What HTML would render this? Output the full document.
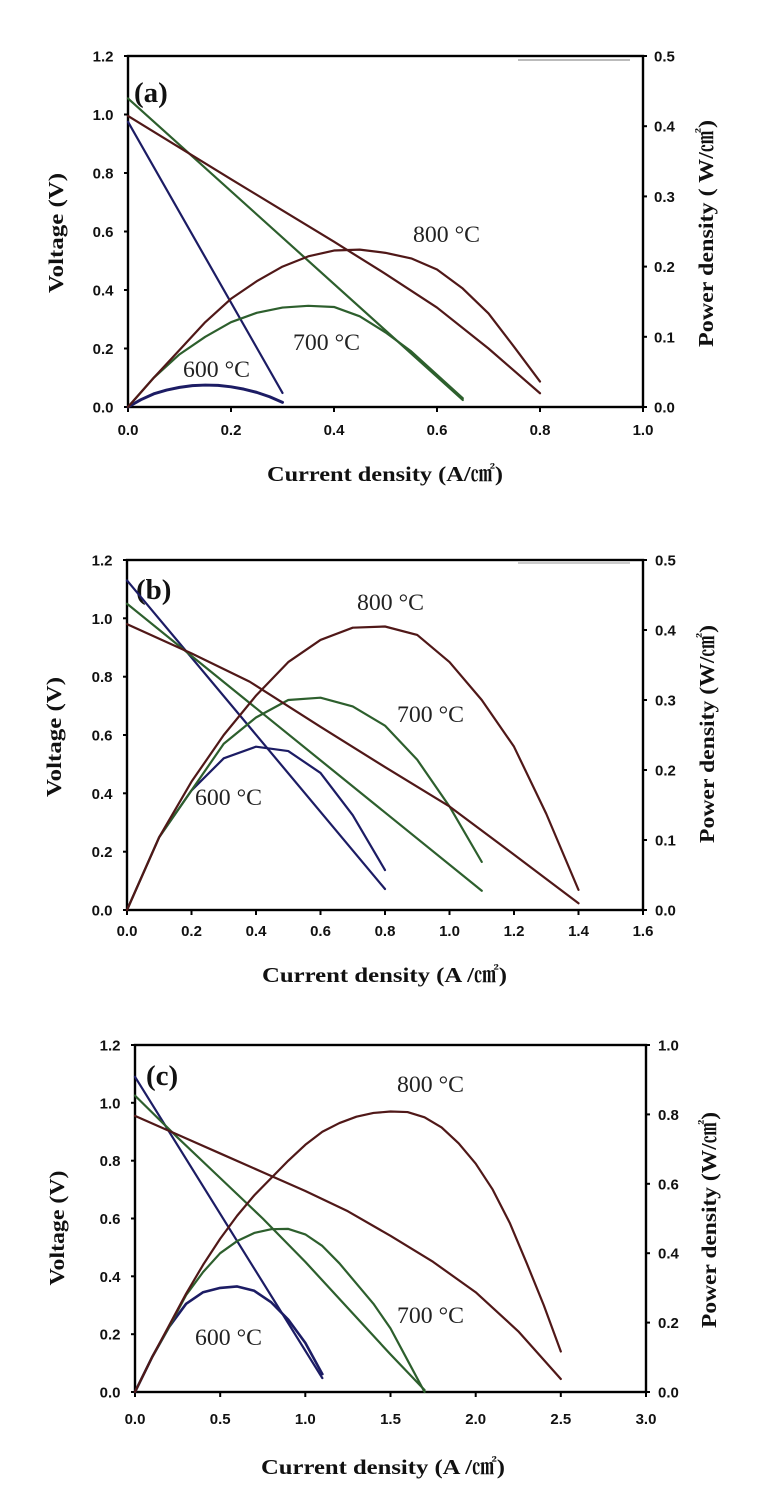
<!DOCTYPE html>
<html>
<head>
<meta charset="utf-8">
<style>
html,body{margin:0;padding:0;background:#fff;}
svg{display:block;}
.tk{font-family:"Liberation Sans",sans-serif;font-weight:bold;font-size:15px;fill:#111;}
.ti{font-family:"Liberation Serif","Noto Serif CJK SC","Noto Sans CJK KR",serif;font-weight:bold;font-size:21px;fill:#111;}
.pl{font-family:"Liberation Serif",serif;font-weight:bold;font-size:29px;fill:#111;}
.tl{font-family:"Liberation Serif",serif;font-size:23px;fill:#222;}
.ax{fill:none;stroke:#000;stroke-width:2.4;}
.t{stroke:#000;stroke-width:2;}
.c{fill:none;stroke-width:2.2;stroke-linejoin:round;stroke-linecap:round;}
.nv{stroke:#1c1c64;}
.gr{stroke:#2d5f2d;}
.br{stroke:#501818;}
</style>
</head>
<body>
<svg width="764" height="1511" viewBox="0 0 764 1511" xmlns="http://www.w3.org/2000/svg">
<rect width="764" height="1511" fill="#fff"/>

<!-- ================= PANEL (a) ================= -->
<line x1="518" y1="60" x2="630" y2="60" stroke="#bbb" stroke-width="2"/>
<rect class="ax" x="128" y="56" width="515" height="351"/>
<g class="t">
<line x1="124" y1="407" x2="128" y2="407"/><line x1="124" y1="348.5" x2="128" y2="348.5"/>
<line x1="124" y1="290" x2="128" y2="290"/><line x1="124" y1="231.5" x2="128" y2="231.5"/>
<line x1="124" y1="173" x2="128" y2="173"/><line x1="124" y1="114.5" x2="128" y2="114.5"/>
<line x1="124" y1="56" x2="128" y2="56"/>
<line x1="128" y1="407" x2="128" y2="412"/><line x1="231" y1="407" x2="231" y2="412"/>
<line x1="334" y1="407" x2="334" y2="412"/><line x1="437" y1="407" x2="437" y2="412"/>
<line x1="540" y1="407" x2="540" y2="412"/><line x1="643" y1="407" x2="643" y2="412"/>
<line x1="643" y1="407" x2="647" y2="407"/><line x1="643" y1="336.8" x2="647" y2="336.8"/>
<line x1="643" y1="266.6" x2="647" y2="266.6"/><line x1="643" y1="196.4" x2="647" y2="196.4"/>
<line x1="643" y1="126.2" x2="647" y2="126.2"/><line x1="643" y1="56" x2="647" y2="56"/>
</g>
<g class="tk" text-anchor="end">
<text x="113.5" y="412.5">0.0</text><text x="113.5" y="354">0.2</text><text x="113.5" y="295.5">0.4</text>
<text x="113.5" y="237">0.6</text><text x="113.5" y="178.5">0.8</text><text x="113.5" y="120">1.0</text>
<text x="113.5" y="61.5">1.2</text>
</g>
<g class="tk" text-anchor="middle">
<text x="128" y="435">0.0</text><text x="231" y="435">0.2</text><text x="334" y="435">0.4</text>
<text x="437" y="435">0.6</text><text x="540" y="435">0.8</text><text x="643" y="435">1.0</text>
</g>
<g class="tk">
<text x="654" y="412.5">0.0</text><text x="654" y="342.3">0.1</text><text x="654" y="272.1">0.2</text>
<text x="654" y="201.9">0.3</text><text x="654" y="131.7">0.4</text><text x="654" y="61.5">0.5</text>
</g>
<text class="ti" transform="translate(63,233) rotate(-90)" text-anchor="middle" textLength="120" lengthAdjust="spacingAndGlyphs">Voltage (V)</text>
<text class="ti" transform="translate(713,233.5) rotate(-90)" text-anchor="middle" textLength="227" lengthAdjust="spacingAndGlyphs">Power density ( W/㎠)</text>
<text class="ti" x="267" y="481" textLength="236" lengthAdjust="spacingAndGlyphs">Current density (A/㎠)</text>
<text class="pl" x="134" y="102">(a)</text>
<text class="tl" x="413" y="242" textLength="67" lengthAdjust="spacingAndGlyphs">800 °C</text>
<text class="tl" x="293" y="350" textLength="67" lengthAdjust="spacingAndGlyphs">700 °C</text>
<text class="tl" x="183" y="377" textLength="67" lengthAdjust="spacingAndGlyphs">600 °C</text>
<g transform="translate(128,407) scale(515,-292.5)">
<polyline class="c nv" vector-effect="non-scaling-stroke" points="0,0.975 0.3,0.048"/>
<polyline class="c nv" style="stroke-width:3" vector-effect="non-scaling-stroke" points="0,0 0.025,0.025 0.05,0.045 0.075,0.058 0.1,0.067 0.125,0.073 0.15,0.075 0.175,0.074 0.2,0.069 0.225,0.061 0.25,0.05 0.275,0.035 0.3,0.016"/>
<polyline class="c gr" vector-effect="non-scaling-stroke" points="0,1.055 0.65,0.024"/>
<polyline class="c gr" vector-effect="non-scaling-stroke" points="0,0 0.05,0.1 0.1,0.18 0.15,0.24 0.2,0.29 0.25,0.322 0.3,0.34 0.35,0.346 0.4,0.342 0.45,0.31 0.5,0.255 0.55,0.19 0.6,0.11 0.65,0.03"/>
<polyline class="c br" vector-effect="non-scaling-stroke" points="0,0.995 0.1,0.887 0.2,0.779 0.3,0.672 0.4,0.565 0.5,0.455 0.6,0.34 0.7,0.2 0.8,0.047"/>
<polyline class="c br" vector-effect="non-scaling-stroke" points="0,0 0.05,0.1 0.1,0.195 0.15,0.29 0.2,0.37 0.25,0.43 0.3,0.48 0.35,0.515 0.4,0.535 0.45,0.538 0.5,0.527 0.55,0.508 0.6,0.47 0.65,0.405 0.7,0.32 0.75,0.205 0.8,0.087"/>
</g>

<!-- ================= PANEL (b) ================= -->
<line x1="518" y1="563" x2="630" y2="563" stroke="#ccc" stroke-width="2"/>
<rect class="ax" x="127" y="560" width="516" height="350"/>
<g class="t">
<line x1="123" y1="910" x2="127" y2="910"/><line x1="123" y1="851.7" x2="127" y2="851.7"/>
<line x1="123" y1="793.3" x2="127" y2="793.3"/><line x1="123" y1="735" x2="127" y2="735"/>
<line x1="123" y1="676.7" x2="127" y2="676.7"/><line x1="123" y1="618.3" x2="127" y2="618.3"/>
<line x1="123" y1="560" x2="127" y2="560"/>
<line x1="127" y1="910" x2="127" y2="915"/><line x1="191.5" y1="910" x2="191.5" y2="915"/>
<line x1="256" y1="910" x2="256" y2="915"/><line x1="320.5" y1="910" x2="320.5" y2="915"/>
<line x1="385" y1="910" x2="385" y2="915"/><line x1="449.5" y1="910" x2="449.5" y2="915"/>
<line x1="514" y1="910" x2="514" y2="915"/><line x1="578.5" y1="910" x2="578.5" y2="915"/>
<line x1="643" y1="910" x2="643" y2="915"/>
<line x1="643" y1="910" x2="647" y2="910"/><line x1="643" y1="840" x2="647" y2="840"/>
<line x1="643" y1="770" x2="647" y2="770"/><line x1="643" y1="700" x2="647" y2="700"/>
<line x1="643" y1="630" x2="647" y2="630"/><line x1="643" y1="560" x2="647" y2="560"/>
</g>
<g class="tk" text-anchor="end">
<text x="112.5" y="915.5">0.0</text><text x="112.5" y="857.2">0.2</text><text x="112.5" y="798.8">0.4</text>
<text x="112.5" y="740.5">0.6</text><text x="112.5" y="682.2">0.8</text><text x="112.5" y="623.8">1.0</text>
<text x="112.5" y="565.5">1.2</text>
</g>
<g class="tk" text-anchor="middle">
<text x="127" y="936">0.0</text><text x="191.5" y="936">0.2</text><text x="256" y="936">0.4</text>
<text x="320.5" y="936">0.6</text><text x="385" y="936">0.8</text><text x="449.5" y="936">1.0</text>
<text x="514" y="936">1.2</text><text x="578.5" y="936">1.4</text><text x="643" y="936">1.6</text>
</g>
<g class="tk">
<text x="655" y="915.5">0.0</text><text x="655" y="845.5">0.1</text><text x="655" y="775.5">0.2</text>
<text x="655" y="705.5">0.3</text><text x="655" y="635.5">0.4</text><text x="655" y="565.5">0.5</text>
</g>
<text class="ti" transform="translate(61,737) rotate(-90)" text-anchor="middle" textLength="120" lengthAdjust="spacingAndGlyphs">Voltage (V)</text>
<text class="ti" transform="translate(714,734) rotate(-90)" text-anchor="middle" textLength="218" lengthAdjust="spacingAndGlyphs">Power density (W/㎠)</text>
<text class="ti" x="262" y="982" textLength="245" lengthAdjust="spacingAndGlyphs">Current density (A /㎠)</text>
<text class="pl" x="136" y="599">(b)</text>
<text class="tl" x="357" y="610" textLength="67" lengthAdjust="spacingAndGlyphs">800 °C</text>
<text class="tl" x="397" y="722" textLength="67" lengthAdjust="spacingAndGlyphs">700 °C</text>
<text class="tl" x="195" y="805" textLength="67" lengthAdjust="spacingAndGlyphs">600 °C</text>
<g transform="translate(127,910) scale(322.5,-291.667)">
<polyline class="c nv" vector-effect="non-scaling-stroke" points="0,1.13 0.8,0.072"/>
<polyline class="c nv" vector-effect="non-scaling-stroke" points="0,0 0.1,0.25 0.2,0.41 0.3,0.52 0.4,0.56 0.5,0.545 0.6,0.47 0.7,0.325 0.8,0.137"/>
<polyline class="c gr" vector-effect="non-scaling-stroke" points="0,1.05 1.1,0.066"/>
<polyline class="c gr" vector-effect="non-scaling-stroke" points="0,0 0.1,0.25 0.2,0.41 0.3,0.57 0.4,0.66 0.5,0.72 0.6,0.728 0.7,0.698 0.8,0.632 0.9,0.515 1.0,0.355 1.1,0.165"/>
<polyline class="c br" vector-effect="non-scaling-stroke" points="0,0.98 0.2,0.88 0.38,0.783 0.6,0.628 0.8,0.49 1.0,0.355 1.2,0.19 1.4,0.023"/>
<polyline class="c br" vector-effect="non-scaling-stroke" points="0,0 0.1,0.25 0.2,0.44 0.3,0.6 0.4,0.735 0.5,0.85 0.6,0.926 0.7,0.968 0.8,0.972 0.9,0.943 1.0,0.85 1.1,0.72 1.2,0.56 1.3,0.33 1.4,0.069"/>
</g>

<!-- ================= PANEL (c) ================= -->
<rect class="ax" x="135" y="1045" width="511" height="347"/>
<g class="t">
<line x1="131" y1="1392" x2="135" y2="1392"/><line x1="131" y1="1334.2" x2="135" y2="1334.2"/>
<line x1="131" y1="1276.3" x2="135" y2="1276.3"/><line x1="131" y1="1218.5" x2="135" y2="1218.5"/>
<line x1="131" y1="1160.7" x2="135" y2="1160.7"/><line x1="131" y1="1102.8" x2="135" y2="1102.8"/>
<line x1="131" y1="1045" x2="135" y2="1045"/>
<line x1="135" y1="1392" x2="135" y2="1397"/><line x1="220.2" y1="1392" x2="220.2" y2="1397"/>
<line x1="305.3" y1="1392" x2="305.3" y2="1397"/><line x1="390.5" y1="1392" x2="390.5" y2="1397"/>
<line x1="475.7" y1="1392" x2="475.7" y2="1397"/><line x1="560.8" y1="1392" x2="560.8" y2="1397"/>
<line x1="646" y1="1392" x2="646" y2="1397"/>
<line x1="646" y1="1392" x2="650" y2="1392"/><line x1="646" y1="1322.6" x2="650" y2="1322.6"/>
<line x1="646" y1="1253.2" x2="650" y2="1253.2"/><line x1="646" y1="1183.8" x2="650" y2="1183.8"/>
<line x1="646" y1="1114.4" x2="650" y2="1114.4"/><line x1="646" y1="1045" x2="650" y2="1045"/>
</g>
<g class="tk" text-anchor="end">
<text x="120.5" y="1397.5">0.0</text><text x="120.5" y="1339.7">0.2</text><text x="120.5" y="1281.8">0.4</text>
<text x="120.5" y="1224">0.6</text><text x="120.5" y="1166.2">0.8</text><text x="120.5" y="1108.3">1.0</text>
<text x="120.5" y="1050.5">1.2</text>
</g>
<g class="tk" text-anchor="middle">
<text x="135" y="1424">0.0</text><text x="220.2" y="1424">0.5</text><text x="305.3" y="1424">1.0</text>
<text x="390.5" y="1424">1.5</text><text x="475.7" y="1424">2.0</text><text x="560.8" y="1424">2.5</text>
<text x="646" y="1424">3.0</text>
</g>
<g class="tk">
<text x="658" y="1397.5">0.0</text><text x="658" y="1328.1">0.2</text><text x="658" y="1258.7">0.4</text>
<text x="658" y="1189.3">0.6</text><text x="658" y="1119.9">0.8</text><text x="658" y="1050.5">1.0</text>
</g>
<text class="ti" transform="translate(64,1228) rotate(-90)" text-anchor="middle" textLength="115" lengthAdjust="spacingAndGlyphs">Voltage (V)</text>
<text class="ti" transform="translate(716,1220) rotate(-90)" text-anchor="middle" textLength="216" lengthAdjust="spacingAndGlyphs">Power density (W/㎠)</text>
<text class="ti" x="261" y="1474" textLength="244" lengthAdjust="spacingAndGlyphs">Current density (A /㎠)</text>
<text class="pl" x="146" y="1085">(c)</text>
<text class="tl" x="397" y="1092" textLength="67" lengthAdjust="spacingAndGlyphs">800 °C</text>
<text class="tl" x="397" y="1323" textLength="67" lengthAdjust="spacingAndGlyphs">700 °C</text>
<text class="tl" x="195" y="1345" textLength="67" lengthAdjust="spacingAndGlyphs">600 °C</text>
<g transform="translate(135,1392) scale(170.33,-289.17)">
<polyline class="c nv" vector-effect="non-scaling-stroke" points="0,1.09 1.1,0.048"/>
<polyline class="c nv" style="stroke-width:2.6" vector-effect="non-scaling-stroke" points="0,0 0.1,0.12 0.2,0.225 0.3,0.305 0.4,0.345 0.5,0.36 0.6,0.365 0.7,0.35 0.8,0.31 0.9,0.25 1.0,0.17 1.1,0.062"/>
<polyline class="c gr" vector-effect="non-scaling-stroke" points="0,1.025 0.25,0.88 0.5,0.74 0.75,0.6 1.0,0.45 1.25,0.29 1.5,0.13 1.7,0.007"/>
<polyline class="c gr" vector-effect="non-scaling-stroke" points="0,0 0.1,0.12 0.2,0.225 0.3,0.335 0.4,0.415 0.5,0.48 0.6,0.522 0.7,0.55 0.8,0.563 0.9,0.564 1.0,0.545 1.1,0.505 1.2,0.445 1.3,0.375 1.4,0.305 1.5,0.22 1.6,0.11 1.7,0.0"/>
<polyline class="c br" vector-effect="non-scaling-stroke" points="0,0.955 0.25,0.89 0.5,0.825 0.75,0.76 1.0,0.695 1.25,0.625 1.5,0.54 1.75,0.45 2.0,0.345 2.25,0.21 2.5,0.045"/>
<polyline class="c br" vector-effect="non-scaling-stroke" points="0,0 0.1,0.12 0.2,0.23 0.3,0.34 0.4,0.44 0.5,0.53 0.6,0.61 0.7,0.68 0.8,0.74 0.9,0.8 1.0,0.855 1.1,0.9 1.2,0.93 1.3,0.952 1.4,0.965 1.5,0.97 1.6,0.968 1.7,0.95 1.8,0.915 1.9,0.86 2.0,0.79 2.1,0.7 2.2,0.585 2.3,0.445 2.4,0.3 2.5,0.14"/>
</g>
</svg>
</body>
</html>
